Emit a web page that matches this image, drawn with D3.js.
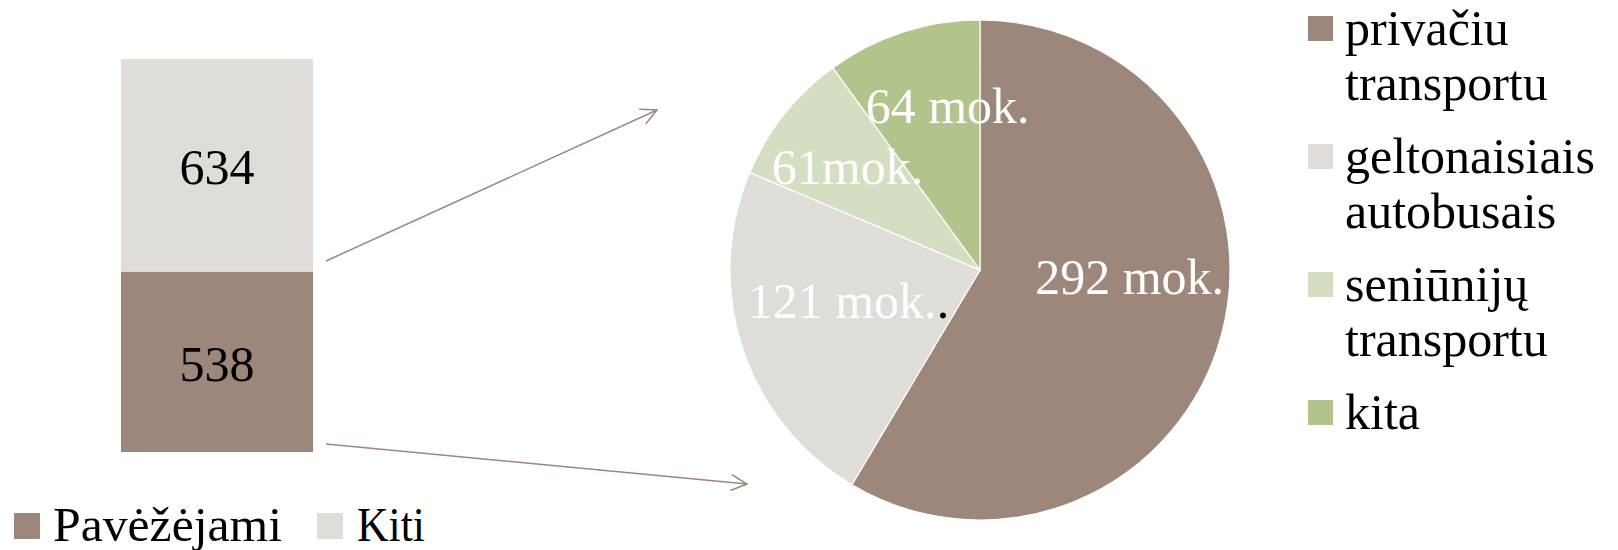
<!DOCTYPE html>
<html>
<head>
<meta charset="utf-8">
<script src="https://cdn.jsdelivr.net/npm/d3@7"></script>
<style>
  html, body { margin: 0; padding: 0; background: #ffffff; }
  svg { display: block; font-family: "Liberation Serif", "DejaVu Serif", serif; }
</style>
</head>
<body>
<svg id="chart" width="1618" height="550"></svg>
<script>
// ---- data ----
const barCategories = ["Pavėžėjami", "Kiti"];
const barValues = [538, 634];
const barColors = ["#9c877a", "#e0dcd8"];

const pieCategories = [["privačiu", "transportu"], ["geltonaisiais", "autobusais"], ["seniūnijų", "transportu"], ["kita"]];
const pieShares = [58.5, 22.8, 8.6, 10.0];           // slice sizes as drawn (percent)
const pieLabels = ["292 mok.", "121 mok.", "61mok.", "64 mok."];
const pieColors = ["#9c877a", "#e0dcd8", "#d4dfc1", "#b2c48b"];

// ---- layout ----
const labelNudge = [[5, -33], [11, -16], [-15, -10], [14, -22]];

const svg = d3.select("#chart");

// ---- stacked single bar ----
const total = d3.sum(barValues);
const y = d3.scaleLinear().domain([0, total]).range([452, 59]);
const x = d3.scaleBand().domain(["all"]).range([121, 313]).padding(0);

const row = { all: "all" };
barCategories.forEach((c, i) => row[c] = barValues[i]);
const stack = d3.stack().keys(barCategories)([row]);

const barG = svg.append("g");
stack.forEach((layer, i) => {
  const d = layer[0];
  barG.append("rect")
    .attr("x", x("all"))
    .attr("width", x.bandwidth())
    .attr("y", y(d[1]))
    .attr("height", y(d[0]) - y(d[1]))
    .attr("fill", barColors[i]);
  barG.append("text")
    .attr("x", x("all") + x.bandwidth() / 2)
    .attr("y", (y(d[0]) + y(d[1])) / 2)
    .attr("dy", "0.38em")
    .attr("text-anchor", "middle")
    .attr("font-size", 50)
    .attr("fill", "#000")
    .text(barValues[i]);
});

// bottom legend
const bl = svg.append("g");
const blItems = [
  { sx: 14, tx: 53, tl: 229 },
  { sx: 317, tx: 357, tl: 68 }
];
barCategories.forEach((c, i) => {
  const it = blItems[i];
  bl.append("rect").attr("x", it.sx).attr("y", 513).attr("width", 26).attr("height", 26).attr("fill", barColors[i]);
  bl.append("text").attr("x", it.tx).attr("y", 541).attr("font-size", 48)
    .attr("textLength", it.tl).attr("lengthAdjust", "spacingAndGlyphs")
    .attr("fill", "#000").text(c);
});

// ---- arrows ----
const arrowColor = "#9c877a";
const defs = svg.append("defs");
defs.append("marker")
  .attr("id", "head")
  .attr("viewBox", "0 0 18 18")
  .attr("refX", 17).attr("refY", 9)
  .attr("markerWidth", 18).attr("markerHeight", 18)
  .attr("markerUnits", "userSpaceOnUse")
  .attr("orient", "auto")
  .append("path")
  .attr("d", "M1,1 L17,9 L1,17")
  .attr("fill", "none")
  .attr("stroke", arrowColor)
  .attr("stroke-width", 1.5);

const arrows = [
  [[326, 261], [657, 110]],
  [[326, 444], [747, 484]]
];
arrows.forEach(a => {
  svg.append("line")
    .attr("x1", a[0][0]).attr("y1", a[0][1])
    .attr("x2", a[1][0]).attr("y2", a[1][1])
    .attr("stroke", arrowColor).attr("stroke-width", 1.5)
    .attr("marker-end", "url(#head)");
});

// ---- pie ----
const cx = 980, cy = 270, r = 250;
const pie = d3.pie().sort(null).value(d => d)(pieShares);
const arc = d3.arc().innerRadius(0).outerRadius(r);
const labelArc = d3.arc().innerRadius(r * 0.6).outerRadius(r * 0.6);

const pg = svg.append("g").attr("transform", `translate(${cx},${cy})`);
pg.selectAll("path.slice").data(pie).enter().append("path")
  .attr("class", "slice")
  .attr("d", arc)
  .attr("fill", (d, i) => pieColors[i])
  .attr("stroke", "#ffffff")
  .attr("stroke-width", 1.2);

pg.selectAll("text.lbl").data(pie).enter().append("text")
  .attr("class", "lbl")
  .attr("transform", (d, i) => {
    const c = labelArc.centroid(d);
    return `translate(${c[0] + labelNudge[i][0]},${c[1] + labelNudge[i][1]})`;
  })
  .attr("text-anchor", "middle")
  .attr("dy", "0.35em")
  .attr("font-size", 50)
  .attr("fill", "#ffffff")
  .each(function (d, i) {
    const t = d3.select(this);
    t.append("tspan").text(pieLabels[i]);
    if (i === 1) t.append("tspan").attr("fill", "#000").text(".");
  });

// right legend
const rl = svg.append("g");
pieCategories.forEach((lines, i) => {
  const top = 16 + i * 128;
  rl.append("rect").attr("x", 1308).attr("y", top).attr("width", 25).attr("height", 25).attr("fill", pieColors[i]);
  const t = rl.append("text").attr("x", 1345).attr("y", top + 29).attr("font-size", 50).attr("fill", "#000");
  lines.forEach((ln, j) => {
    t.append("tspan").attr("x", 1345).attr("dy", j === 0 ? 0 : 55).text(ln);
  });
});
</script>
</body>
</html>
